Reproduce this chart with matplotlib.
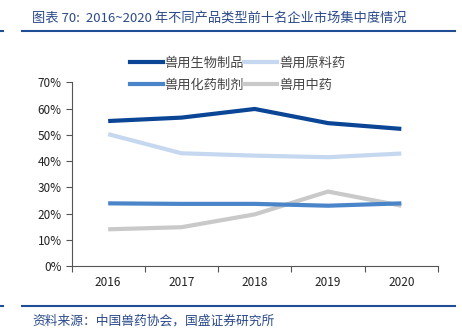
import matplotlib
matplotlib.use("Agg")
import matplotlib.pyplot as plt
from matplotlib.lines import Line2D

plt.rcParams['font.family'] = ['Noto Sans CJK SC', 'DejaVu Sans']

years = ["2016", "2017", "2018", "2019", "2020"]
bio = [55.3, 56.6, 59.9, 54.5, 52.3]
raw = [50.3, 43.0, 42.1, 41.5, 42.9]
chem = [23.9, 23.7, 23.7, 23.0, 23.9]
tcm = [14.0, 14.8, 19.7, 28.4, 23.0]
names = ["兽用生物制品", "兽用原料药", "兽用化药制剂", "兽用中药"]
colors = ["#0B4596", "#C5D8EF", "#4A84C9", "#C9C9C9"]
yticks = [0, 10, 20, 30, 40, 50, 60, 70]
title = "图表 70:  2016~2020 年不同产品类型前十名企业市场集中度情况"
source = "资料来源：中国兽药协会，国盛证券研究所"

fig = plt.figure(figsize=(4.62, 3.36), dpi=100)
ax = fig.add_axes([0.1548, 0.2083, 0.948 - 0.1548, 0.7545 - 0.2083])

x = list(range(len(years)))
series = [bio, raw, chem, tcm]
order = [1, 3, 2, 0]
for i in order:
    ax.plot(x, [v / 100 for v in series[i]], color=colors[i], lw=3.0,
            solid_capstyle='butt', solid_joinstyle='round', zorder=3)

ax.set_xlim(-0.5, 4.5)
ax.set_ylim(0, 0.7)
ax.set_yticks([t / 100 for t in yticks])
ax.set_yticklabels([f"{t}%" for t in yticks])
ax.set_xticks([i - 0.5 for i in range(len(years) + 1)])
ax.set_xticklabels([])
ax.set_xticks(x, minor=True)
ax.set_xticklabels(years, minor=True)
ax.tick_params(axis='x', which='minor', length=0, pad=7, labelsize=8.5, labelcolor='#222222')
ax.tick_params(axis='x', which='major', length=4, width=0.8, color='#555555', direction='out')
ax.tick_params(axis='y', length=4, width=0.8, color='#555555', direction='out', labelsize=8.5,
               labelcolor='#222222', pad=3)
for s in ['top', 'right']:
    ax.spines[s].set_visible(False)
for s in ['left', 'bottom']:
    ax.spines[s].set_color('#555555')
    ax.spines[s].set_linewidth(0.8)

handles = [Line2D([], [], color=colors[i], lw=3.0) for i in range(4)]
leg = fig.legend([handles[0], handles[2], handles[1], handles[3]],
                 [names[0], names[2], names[1], names[3]],
                 ncol=2, loc='upper left', bbox_to_anchor=(0.255, 0.867),
                 frameon=False, fontsize=9.5, handlelength=2.5, handletextpad=0.15,
                 columnspacing=0.0, labelspacing=0.7)
for t in leg.get_texts():
    t.set_color('#444444')

fig.text(0.07, 0.945, title, fontsize=9.5, color='#2B4A8A', style='italic', va='center')
fig.add_artist(Line2D([0.048, 0.985], [0.907, 0.907], color='#1F4E96', lw=1.5, transform=fig.transFigure))
fig.add_artist(Line2D([0.0, 0.007], [0.907, 0.907], color='#1F4E96', lw=1.5, transform=fig.transFigure))
fig.add_artist(Line2D([0.048, 0.985], [0.089, 0.089], color='#1F4E96', lw=1.5, transform=fig.transFigure))
fig.add_artist(Line2D([0.0, 0.007], [0.089, 0.089], color='#1F4E96', lw=1.5, transform=fig.transFigure))
fig.text(0.07, 0.045, source, fontsize=9.2, color='#2B4A8A', style='italic', va='center')

fig.savefig("out.png", dpi=100)
